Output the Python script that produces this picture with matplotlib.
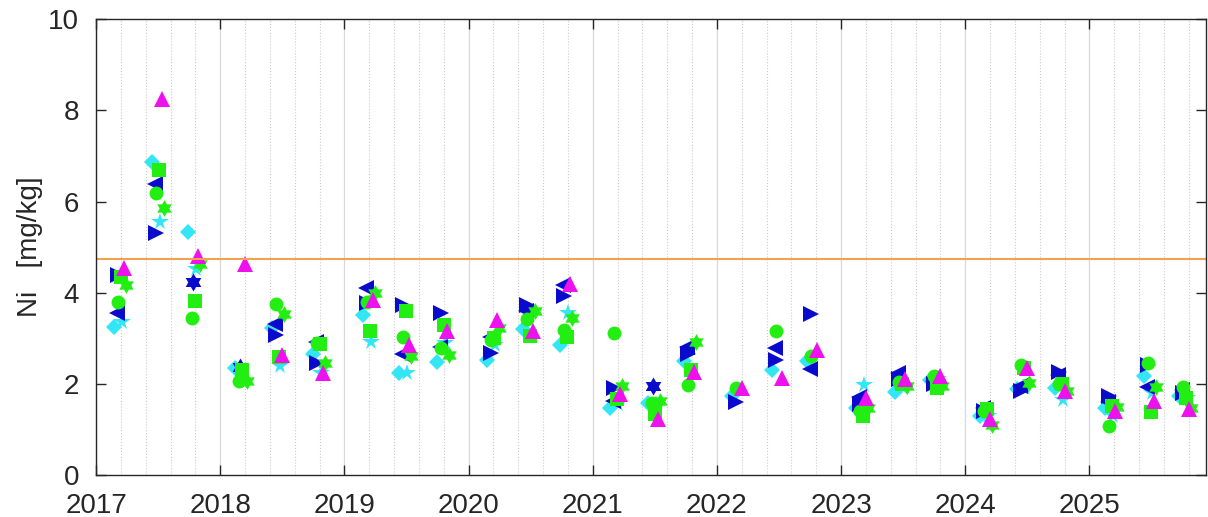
import numpy as np
import matplotlib
matplotlib.use('Agg')
import matplotlib.pyplot as plt
from matplotlib.path import Path
from matplotlib.ticker import MultipleLocator

plt.rcParams['font.family'] = ['Liberation Sans', 'DejaVu Sans']

nan = np.nan

# sampling campaigns (decimal year of first sample in each campaign)
campaigns = [2017.145, 2017.451, 2017.741, 2018.119, 2018.417, 2018.747,
             2019.150, 2019.440, 2019.746, 2020.148, 2020.438, 2020.736,
             2021.138, 2021.444, 2021.734, 2022.121, 2022.443, 2022.725,
             2023.119, 2023.433, 2023.715, 2024.118, 2024.415, 2024.721,
             2025.124, 2025.438, 2025.720]

# Ni values [mg/kg] per station
ni_cyan_diamond = [3.25, 6.86, 5.33, 2.36, 3.23, 2.66, 3.52, 2.23, 2.49, 2.53, 3.21, 2.86,
                   1.48, 1.58, 2.50, 1.73, 2.30, 2.50, 1.48, 1.82, 2.08, 1.29, 1.88, 1.92,
                   1.48, 2.17, 1.73]
ni_cyan_star = [3.36, 5.55, 4.52, 2.05, 2.40, 2.25, 2.93, 2.24, 2.90, 2.85, nan, 3.55,
                1.55, 1.55, nan, nan, nan, nan, 1.97, 1.90, 2.10, 1.30, 1.90, 1.64,
                1.30, 1.80, 1.70]
ni_blue_left = [3.56, 6.39, nan, nan, 3.32, 2.93, 4.10, 2.66, 2.80, 3.04, 3.60, 4.17,
                1.62, nan, 2.82, nan, 2.79, 2.33, 1.72, 2.25, 2.06, 1.48, 1.95, 2.20,
                1.60, 1.93, 1.86]
ni_blue_right = [4.39, 5.30, nan, nan, 3.08, 2.45, 3.78, 3.73, 3.55, 2.68, 3.73, 3.92,
                 1.92, nan, 2.66, 1.61, 2.52, 3.54, 1.55, 2.10, 2.00, 1.40, 1.85, 2.27,
                 1.73, 2.42, 1.80]
ni_blue_hex = [nan, nan, 4.24, 2.38, nan, nan, nan, nan, nan, nan, nan, nan,
               nan, 1.96, nan, nan, nan, nan, nan, nan, nan, nan, nan, nan,
               nan, nan, nan]
ni_green_circle = [3.80, 6.18, 3.45, 2.07, 3.75, 2.90, 3.80, 3.04, 2.79, 2.97, 3.43, 3.18,
                   3.12, 1.59, 1.97, 1.92, 3.15, 2.61, 1.40, 2.05, 2.17, 1.40, 2.42, 1.99,
                   1.07, 2.46, 1.94]
ni_green_square = [4.35, 6.70, 3.82, 2.31, 2.58, 2.88, 3.17, 3.60, 3.30, 3.01, 3.05, 3.04,
                   1.66, 1.33, 2.31, nan, nan, nan, 1.29, 2.00, 1.92, 1.44, 2.36, 1.99,
                   1.51, 1.38, 1.70]
ni_green_hex = [4.17, 5.85, 4.63, 2.07, 3.53, 2.45, 4.00, 2.62, 2.64, 3.23, 3.60, 3.45,
                1.95, 1.62, 2.93, nan, nan, nan, 1.48, 1.95, 1.95, 1.11, 2.03, 1.84,
                1.50, 1.93, 1.48]
ni_magenta_tri = [4.54, 8.25, 4.80, 4.63, 2.63, 2.23, 3.84, 2.86, 3.15, 3.40, 3.16, 4.19,
                  1.77, 1.24, 2.26, 1.92, 2.14, 2.74, 1.70, 2.10, 2.17, 1.23, 2.35, 1.85,
                  1.40, 1.62, 1.45]

limit_value = 4.75

# star of David marker (like MATLAB's hexagram)
ang = np.pi / 2 + np.arange(12) * np.pi / 6
rad = np.where(np.arange(12) % 2 == 0, 1.0, 1 / np.sqrt(3))
verts = np.column_stack([rad * np.cos(ang), rad * np.sin(ang)])
hexagram = Path(np.vstack([verts, verts[:1]]), closed=True)

# (values, sampling delay in days, marker, colour, size)
stations = [
    (ni_cyan_diamond, 0, 'D', '#33E6F5', 8.5),
    (ni_cyan_star, 23, '*', '#33E6F5', 13),
    (ni_blue_left, 8, '<', '#0A0ACD', 11),
    (ni_blue_right, 11, '>', '#0A0ACD', 11),
    (ni_blue_hex, 14, hexagram, '#0A0ACD', 13),
    (ni_green_circle, 12, 'o', '#22EE11', 10),
    (ni_green_square, 20, 's', '#22EE11', 10),
    (ni_green_hex, 36, hexagram, '#22EE11', 12),
    (ni_magenta_tri, 30, '^', '#EE11EE', 11),
]

fig = plt.figure(figsize=(12.08, 5.17), dpi=100)
ax = fig.add_axes([0.0795, 0.081, 0.919, 0.882])

t = np.array(campaigns)
for vals, delay, mk, col, ms in stations:
    ax.plot(t + delay / 365.25, vals, linestyle='none', marker=mk, color=col,
            markersize=ms, markeredgewidth=0)

ax.axhline(limit_value, color='#F0A24E', linewidth=1.5)

ax.set_xlim(2017, 2025.94)
ax.set_ylim(0, 10)

ax.xaxis.set_major_locator(MultipleLocator(1.0))
ax.xaxis.set_minor_locator(MultipleLocator(0.2))
ax.yaxis.set_major_locator(MultipleLocator(2.0))

ax.grid(which='major', axis='x', linewidth=0.9, linestyle='-', color='0.85')
ax.grid(which='minor', axis='x', linewidth=0.8, linestyle=':', color='0.8')
ax.set_axisbelow(True)

ax.tick_params(which='major', direction='in', length=7, width=1, color='#262626',
               labelsize=20, labelcolor='#262626', top=True, right=True)
ax.tick_params(axis='x', pad=13)
ax.tick_params(axis='y', pad=12)
ax.tick_params(which='minor', length=0)
ax.set_xticklabels([str(int(v)) for v in ax.get_xticks()])

for s in ax.spines.values():
    s.set_color('#262626')
    s.set_linewidth(1)

ax.set_ylabel('Ni   [mg/kg]', fontsize=20, color='#262626', labelpad=4)

fig.savefig('out.png', dpi=100)
